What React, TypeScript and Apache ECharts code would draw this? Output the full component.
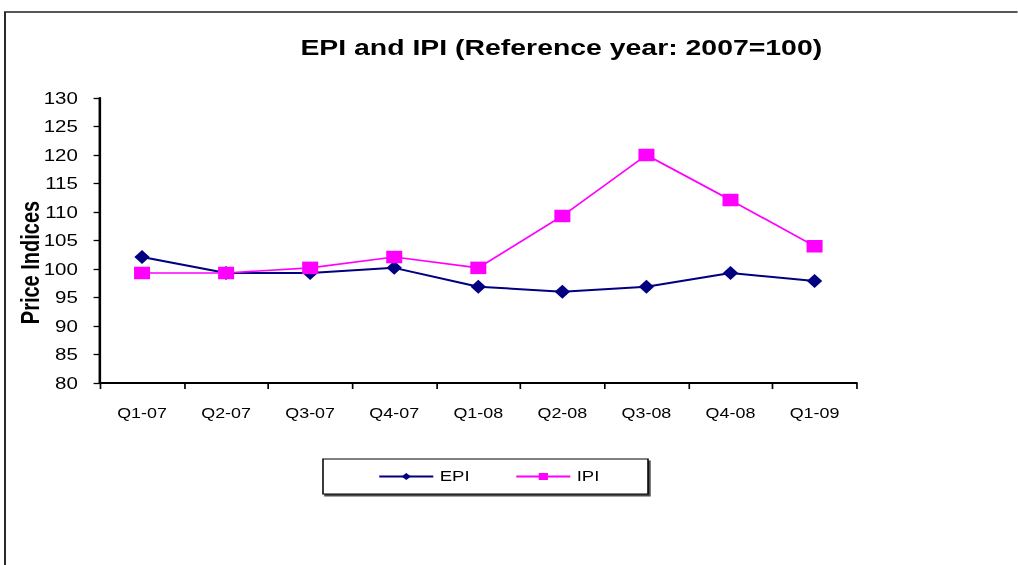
import React, { useEffect, useRef } from "react";
import * as echarts from "echarts";

const categories = ["Q1-07", "Q2-07", "Q3-07", "Q4-07", "Q1-08", "Q2-08", "Q3-08", "Q4-08", "Q1-09"];
const epiValues = [102.1, 99.3, 99.3, 100.2, 96.9, 96.0, 96.9, 99.3, 97.9];
const ipiValues = [99.3, 99.3, 100.2, 102.1, 100.2, 109.3, 120.0, 112.1, 104.0];

const FONT = "Liberation Sans, Arial, sans-serif";
// the reference picture is stretched horizontally
const SX = 1.28;
const W = 1018 / SX;

export default function App() {
  const ref = useRef<HTMLDivElement>(null);
  useEffect(() => {
    if (!ref.current) return;
    const chart = echarts.init(ref.current, null, { renderer: "svg" });
    chart.setOption({
      animation: false,
      backgroundColor: "#ffffff",
      textStyle: { fontFamily: FONT },
      title: {
        text: "EPI and IPI (Reference year: 2007=100)",
        left: 294 / SX,
        top: 31,
        textStyle: { fontFamily: FONT, fontSize: 22.2, fontWeight: "bold", color: "#000" },
      },
      graphic: [
        {
          type: "rect",
          shape: { x: 5 / SX, y: 12, width: 1200, height: 700 },
          style: { fill: "none", stroke: "#222", lineWidth: 1.5 },
          z: 0,
        },
        {
          type: "rect",
          shape: { x: 323 / SX, y: 459, width: 325 / SX, height: 35 },
          style: {
            fill: "#fff",
            stroke: "#000",
            lineWidth: 1.2,
            shadowColor: "rgba(0,0,0,0.7)",
            shadowOffsetX: 1.5,
            shadowOffsetY: 2,
            shadowBlur: 0,
          },
          z: 0,
        },
      ],
      legend: {
        left: 378 / SX,
        top: 469,
        itemWidth: 54 / SX,
        itemHeight: 9,
        itemGap: 35.5,
        padding: 0,
        textStyle: { fontFamily: FONT, fontSize: 14.5, color: "#000" },
        data: ["EPI", "IPI"],
        z: 5,
      },
      grid: { left: 100 / SX, right: W - 857 / SX, top: 98, bottom: 182, outerBoundsMode: "none", containLabel: false },
      xAxis: {
        type: "category",
        data: categories,
        boundaryGap: true,
        axisLine: { lineStyle: { color: "#000", width: 2 } },
        axisTick: { show: true, inside: false, length: 6, lineStyle: { color: "#000", width: 1.3 } },
        axisLabel: { fontFamily: FONT, fontSize: 14, color: "#000", margin: 23 },
        splitLine: { show: false },
      },
      yAxis: {
        type: "value",
        min: 80,
        max: 130,
        interval: 5,
        name: "Price Indices",
        nameLocation: "middle",
        nameRotate: 90,
        nameGap: 45,
        nameMoveOverlap: false,
        nameTextStyle: {
          fontFamily: FONT,
          fontSize: 20,
          fontWeight: "bold",
          color: "#000",
          padding: [0, 44, 0, 0],
        },
        axisLine: { show: true, lineStyle: { color: "#000", width: 2 } },
        axisTick: { show: true, inside: false, length: 5, lineStyle: { color: "#000", width: 1.3 } },
        axisLabel: { fontFamily: FONT, fontSize: 16, color: "#000", margin: 17.3 },
        splitLine: { show: false },
      },
      series: [
        {
          name: "EPI",
          type: "line",
          data: epiValues,
          symbol: "diamond",
          symbolSize: [12, 14],
          itemStyle: { color: "#000080" },
          lineStyle: { color: "#000080", width: 2 },
          z: 3,
        },
        {
          name: "IPI",
          type: "line",
          data: ipiValues,
          symbol: "rect",
          symbolSize: [12.5, 12.5],
          itemStyle: { color: "#FF00FF" },
          lineStyle: { color: "#FF00FF", width: 1.6 },
          z: 4,
        },
      ],
    });
    return () => chart.dispose();
  }, []);
  return (
    <div style={{ position: "fixed", left: 0, top: 0, width: 1018, height: 565, overflow: "hidden", background: "#fff" }}>
      <div
        ref={ref}
        style={{ width: W, height: 565, transform: `scaleX(${SX})`, transformOrigin: "0 0" }}
      />
    </div>
  );
}
